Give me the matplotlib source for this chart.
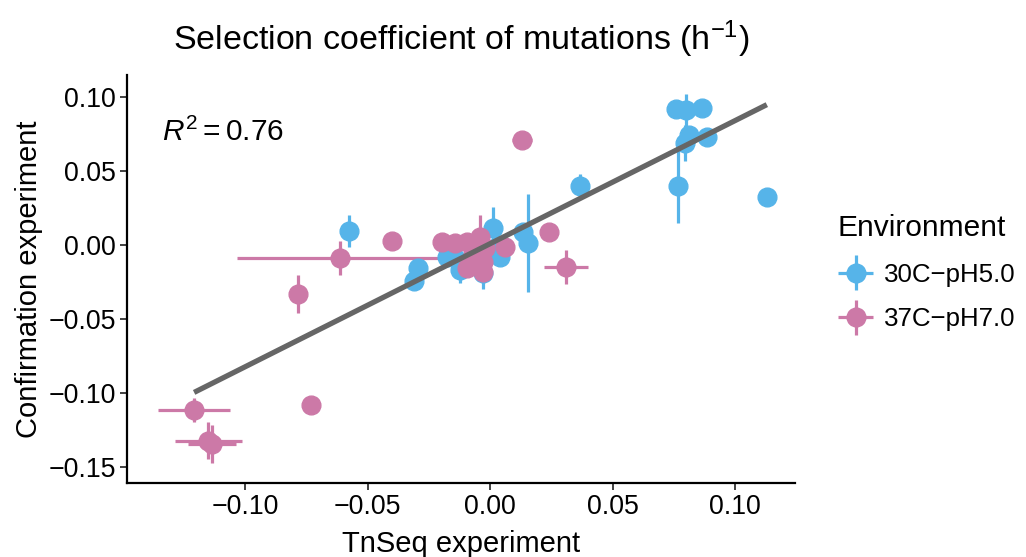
import numpy as np
import matplotlib
matplotlib.use("Agg")
import matplotlib.pyplot as plt
from matplotlib.container import ErrorbarContainer
from matplotlib.legend_handler import HandlerErrorbar

plt.rcParams['font.family'] = ['Liberation Sans', 'DejaVu Sans']
plt.rcParams['mathtext.fontset'] = 'custom'
plt.rcParams['mathtext.rm'] = 'Liberation Sans'
plt.rcParams['mathtext.it'] = 'Liberation Sans:italic'

# 30C-pH5.0 mutations: TnSeq vs confirmation selection coefficients
env_a = "30C\u2212pH5.0"
a_tnseq = np.array([0.0758, 0.0799, 0.0864, 0.0811, 0.0795, 0.0885, 0.0766, 0.1129,
                    0.0366, -0.0578, -0.0295, -0.0311, 0.0133, 0.0154, 0.0011, 0.0031,
                    -0.0144, -0.0124, -0.0030, 0.0040, -0.0177])
a_conf = np.array([0.0919, 0.0912, 0.0926, 0.0743, 0.0689, 0.0730, 0.0399, 0.0324,
                   0.0399, 0.0095, -0.0155, -0.0243, 0.0088, 0.0014, 0.0115, -0.0007,
                   -0.0088, -0.0169, -0.0190, -0.0081, -0.0081])
a_tnseq_err = np.array([0.002, 0.002, 0.002, 0.002, 0.002, 0.002, 0.002, 0.002,
                        0.002, 0.002, 0.002, 0.002, 0.002, 0.002, 0.002, 0.002,
                        0.002, 0.002, 0.002, 0.002, 0.002])
a_conf_err = np.array([0.005, 0.011, 0.004, 0.005, 0.012, 0.004, 0.025, 0.006,
                       0.008, 0.011, 0.006, 0.006, 0.004, 0.033, 0.014, 0.004,
                       0.004, 0.009, 0.011, 0.004, 0.004])

# 37C-pH7.0 mutations
env_b = "37C\u2212pH7.0"
b_tnseq = np.array([0.0129, 0.0239, 0.0309, -0.0402, -0.0614, -0.0785, -0.0732, -0.1209,
                    -0.1152, -0.1136, -0.0197, -0.0144, -0.0095, -0.0042, -0.0022, 0.0060,
                    -0.0030, -0.0095, -0.0030, -0.0071])
b_conf = np.array([0.0709, 0.0088, -0.0149, 0.0027, -0.0088, -0.0331, -0.1081, -0.1115,
                   -0.1324, -0.1345, 0.0020, 0.0014, 0.0020, 0.0054, -0.0020, -0.0014,
                   -0.0115, -0.0155, -0.0182, -0.0068])
b_tnseq_err = np.array([0.004, 0.002, 0.009, 0.002, 0.042, 0.002, 0.002, 0.0147,
                        0.0137, 0.010, 0.002, 0.002, 0.002, 0.002, 0.002, 0.002,
                        0.002, 0.002, 0.002, 0.002])
b_conf_err = np.array([0.002, 0.002, 0.0115, 0.002, 0.0115, 0.013, 0.002, 0.008,
                       0.0125, 0.013, 0.002, 0.002, 0.002, 0.015, 0.002, 0.002,
                       0.002, 0.002, 0.002, 0.002])

r2_text = "$R^2 = 0.76$"
blue = "#56B4E9"
pink = "#CC79A7"

fig = plt.figure(figsize=(10.26, 5.57), dpi=100)
ax = fig.add_axes([127 / 1026, 1 - 483 / 557, 668 / 1026, 408 / 557])

for xs, ys, xe, ye, col, lab in [(a_tnseq, a_conf, a_tnseq_err, a_conf_err, blue, env_a),
                                 (b_tnseq, b_conf, b_tnseq_err, b_conf_err, pink, env_b)]:
    ax.errorbar(xs, ys, xerr=xe, yerr=ye, fmt='o', ms=13.5, color=col, mec=col,
                ecolor=col, elinewidth=2.3, capsize=0, label=lab)

# linear fit over all mutations
x_all = np.concatenate([a_tnseq, b_tnseq])
y_all = np.concatenate([a_conf, b_conf])
coef = np.polyfit(x_all, y_all, 1)
fx = np.array([x_all.min(), x_all.max()])
ax.plot(fx, np.polyval(coef, fx), color="#666666", lw=3.8, solid_capstyle='butt', zorder=5)

ax.text(-0.134, 0.076, r2_text, fontsize=21.5, ha='left', va='center')

ax.set_xlim(-0.1483, 0.1244)
ax.set_ylim(-0.1608, 0.1149)
ax.set_xticks([-0.10, -0.05, 0.00, 0.05, 0.10])
ax.set_yticks([-0.15, -0.10, -0.05, 0.00, 0.05, 0.10])
ax.set_xticklabels(["\u22120.10", "\u22120.05", "0.00", "0.05", "0.10"])
ax.set_yticklabels(["\u22120.15", "\u22120.10", "\u22120.05", "0.00", "0.05", "0.10"])
ax.tick_params(labelsize=19.3, length=5, width=1.3, color="#333333", pad=3)
for s in ['top', 'right']:
    ax.spines[s].set_visible(False)
for s in ['left', 'bottom']:
    ax.spines[s].set_linewidth(1.6)

ax.set_xlabel("TnSeq experiment", fontsize=21, labelpad=7)
ax.set_ylabel("Confirmation experiment", fontsize=21, labelpad=4)
ax.set_title("Selection coefficient of mutations (h$^{\u22121}$)", fontsize=24.5, pad=18)

fig.legend(loc='upper left', bbox_to_anchor=(838 / 1026, 1 - 214 / 557), frameon=False,
           title="Environment", fontsize=18.6, title_fontsize=21.5,
           borderpad=0, borderaxespad=0,
           handlelength=1.38, handletextpad=0.4, labelspacing=0.8,
           alignment='left',
           handler_map={ErrorbarContainer: HandlerErrorbar(xerr_size=0.68)})

fig.savefig("out.png", dpi=100)
